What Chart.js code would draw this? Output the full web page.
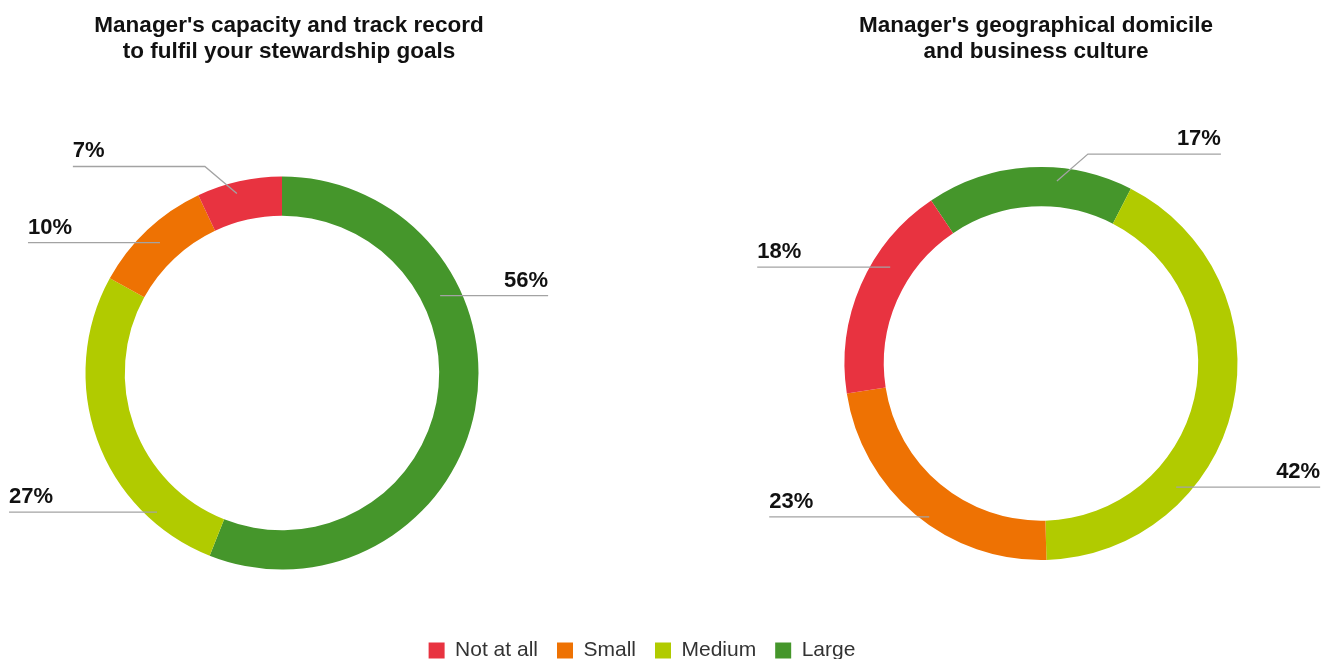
<!DOCTYPE html>
<html><head><meta charset="utf-8">
<script src="https://cdn.jsdelivr.net/npm/chart.js@4.4.1/dist/chart.umd.min.js"></script>
<style>
html,body{margin:0;padding:0;background:#fff;overflow:hidden;width:1322px;height:659px;}
#wrap{position:relative;width:1322px;height:659px;overflow:hidden;background:#fff;}
canvas{position:absolute;left:0;top:0;}
</style></head><body>
<div id="wrap">
<canvas id="c1" width="1322" height="671"></canvas>
<canvas id="c2" width="1322" height="659"></canvas>
</div>
<script>
// ---- data ----
const categories = ['Large', 'Medium', 'Small', 'Not at all'];
const categoryColors = ['#45962B', '#B1CB00', '#EE7203', '#E83340'];
const stewardshipValues = [56, 27, 10, 7];
const domicileValues = [17, 42, 23, 18];
const stewardshipTitle = ["Manager's capacity and track record", "to fulfil your stewardship goals"];
const domicileTitle = ["Manager's geographical domicile", "and business culture"];

const FONT = "'Liberation Sans', Arial, Helvetica, sans-serif";
Chart.defaults.font.family = FONT;

const leaderLabels = {
  id: 'leaderLabels',
  afterDraw(chart, args, opts) {
    const ctx = chart.ctx;
    ctx.save();
    // title
    ctx.fillStyle = '#111';
    ctx.font = 'bold 22.5px ' + FONT;
    ctx.textAlign = 'center';
    ctx.textBaseline = 'alphabetic';
    opts.title.forEach((line, k) => ctx.fillText(line, opts.titleX, opts.titleY + k * 26));
    // leader labels
    const meta = chart.getDatasetMeta(0);
    const values = chart.data.datasets[0].data;
    meta.data.forEach((arc, i) => {
      const cfg = opts.items[i];
      const p = arc.getProps(['x', 'y', 'startAngle', 'endAngle', 'innerRadius', 'outerRadius'], true);
      const a = p.startAngle + (p.endAngle - p.startAngle) * cfg.frac;
      const r = p.innerRadius + (p.outerRadius - p.innerRadius) * cfg.rfrac;
      const ax = p.x + Math.cos(a) * r, ay = p.y + Math.sin(a) * r;
      const ex = ax + (cfg.elbow ? cfg.elbow[0] : 0);
      const ey = ay + (cfg.elbow ? cfg.elbow[1] : 0);
      const tx = ex + cfg.dir * cfg.len;
      ctx.strokeStyle = '#a3a3a3';
      ctx.lineWidth = 1.3;
      ctx.beginPath();
      ctx.moveTo(ax, ay);
      ctx.lineTo(ex, ey);
      ctx.lineTo(tx, ey);
      ctx.stroke();
      ctx.fillStyle = '#111';
      ctx.font = 'bold 22px ' + FONT;
      ctx.textAlign = cfg.dir < 0 ? 'left' : 'right';
      ctx.fillText(values[i] + '%', tx, ey - 9);
    });
    ctx.restore();
  }
};

new Chart(document.getElementById('c1'), {
  type: 'doughnut',
  data: {
    labels: categories,
    datasets: [{ data: stewardshipValues, backgroundColor: categoryColors, borderWidth: 0 }]
  },
  options: {
    responsive: false, animation: false, events: [],
    rotation: 0, cutout: '80%', radius: 196.5,
    layout: { padding: { top: 125, left: 0, right: 38, bottom: 0 } },
    plugins: {
      tooltip: { enabled: false },
      legend: {
        display: true, position: 'bottom', reverse: true,
        labels: { boxWidth: 16, boxHeight: 16, padding: 19, color: '#333',
                  font: { family: FONT, size: 21 } }
      },
      subtitle: { display: true, position: 'right', fullSize: false, text: '',
                  padding: 0, font: { size: 12, lineHeight: '720px' } },
      leaderLabels: {
        title: stewardshipTitle, titleX: 289, titleY: 32,
        items: [
          { frac: 0.317, rfrac: 0.48, dir: 1, len: 108 },
          { frac: 0.209, rfrac: 0.76, dir: -1, len: 148 },
          { frac: 0.503, rfrac: 0.545, dir: -1, len: 132 },
          { frac: 0.44, rfrac: 0.71, elbow: [-32, -27], dir: -1, len: 132 }
        ]
      }
    }
  },
  plugins: [leaderLabels]
});

new Chart(document.getElementById('c2'), {
  type: 'doughnut',
  data: {
    labels: categories,
    datasets: [{ data: domicileValues, backgroundColor: categoryColors, borderWidth: 0 }]
  },
  options: {
    responsive: false, animation: false, events: [],
    rotation: -34, cutout: '80%', radius: 196.5,
    layout: { padding: { top: 68, left: 760, right: 0, bottom: 0 } },
    plugins: {
      tooltip: { enabled: false },
      legend: { display: false },
      leaderLabels: {
        title: domicileTitle, titleX: 1036, titleY: 32,
        items: [
          { frac: 0.637, rfrac: 0.66, elbow: [31, -27], dir: 1, len: 133 },
          { frac: 0.696, rfrac: 0.66, dir: 1, len: 144 },
          { frac: 0.455, rfrac: 0.83, dir: -1, len: 160 },
          { frac: 0.639, rfrac: 0.555, dir: -1, len: 133 }
        ]
      }
    }
  },
  plugins: [leaderLabels]
});
</script>
</body></html>
